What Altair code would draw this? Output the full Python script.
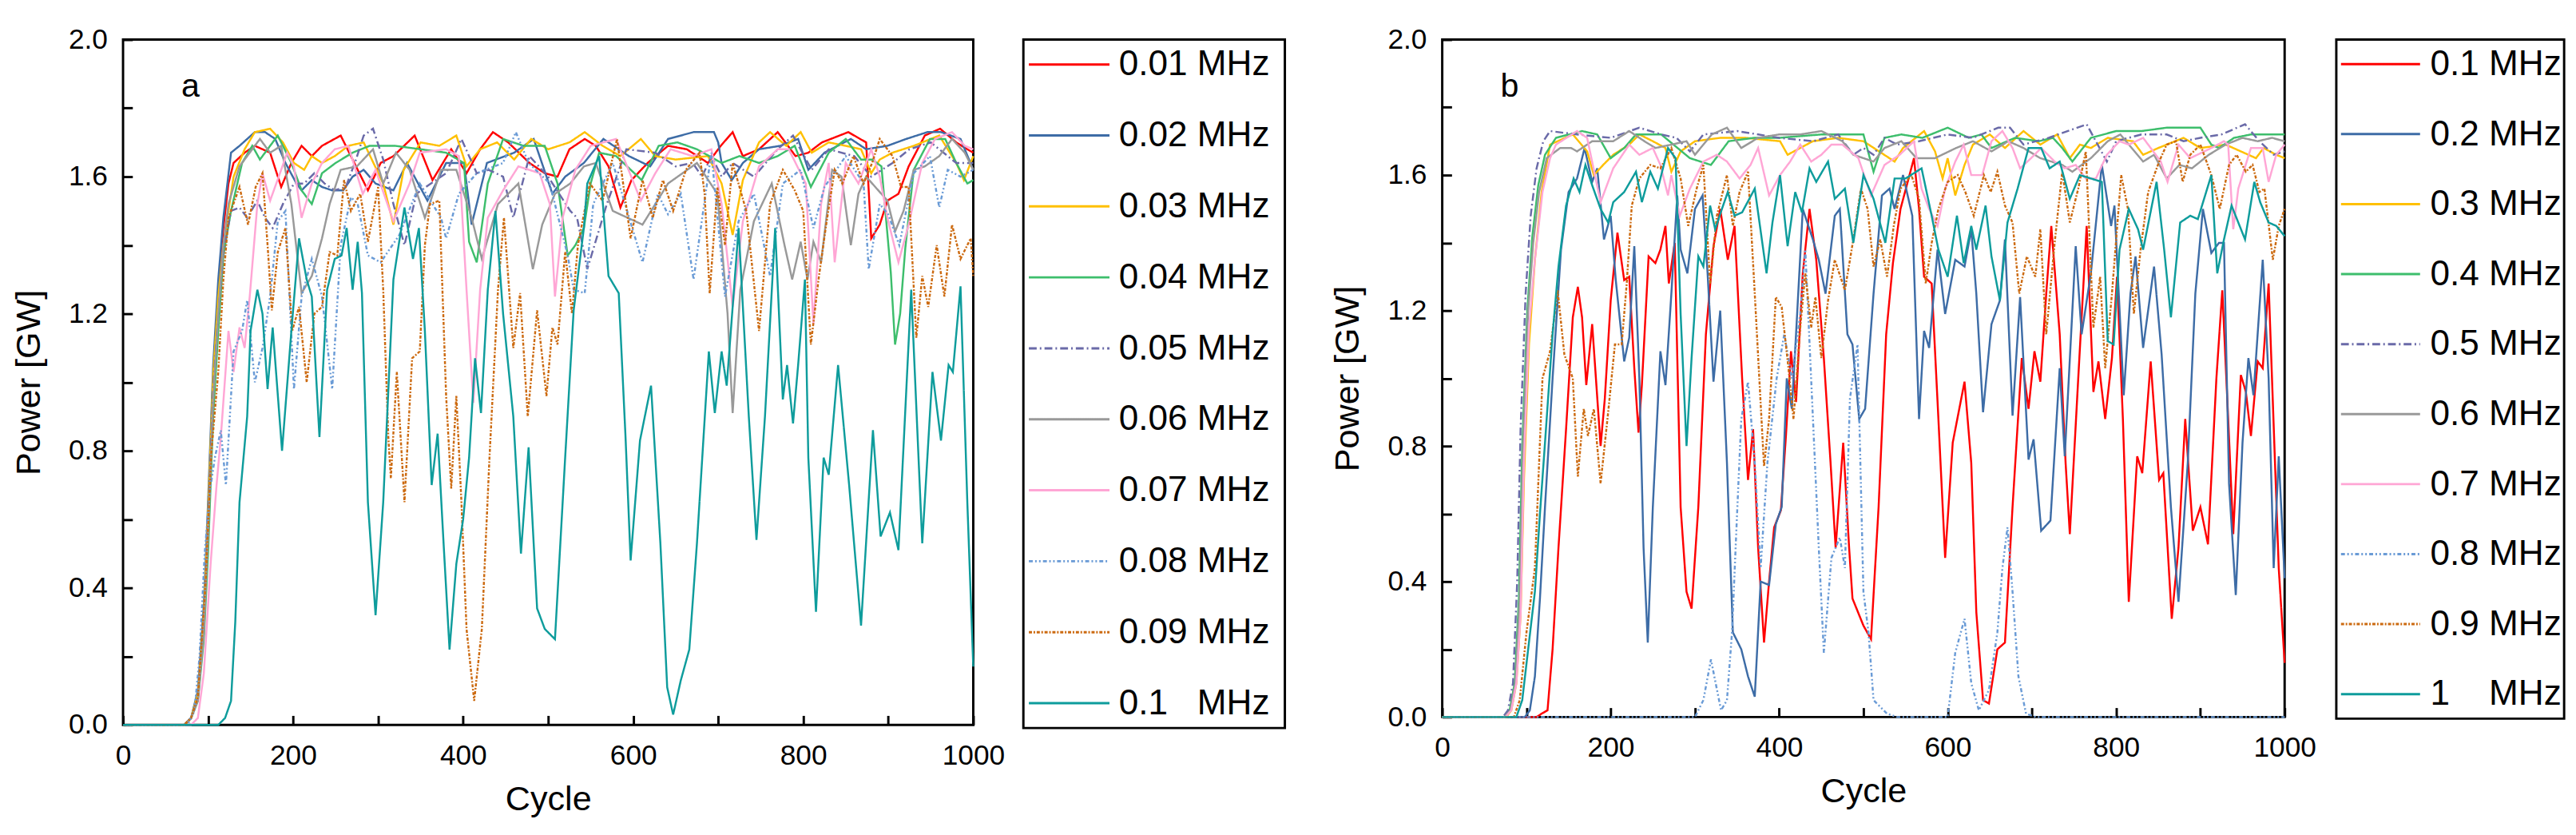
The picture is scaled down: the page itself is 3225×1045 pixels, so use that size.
import altair as alt
import pandas as pd

FONT = "Liberation Sans"

LABELS_A = ["0.01 MHz", "0.02 MHz", "0.03 MHz", "0.04 MHz", "0.05 MHz",
            "0.06 MHz", "0.07 MHz", "0.08 MHz", "0.09 MHz", "0.1\u00a0\u00a0\u00a0MHz"]
LABELS_B = ["0.1 MHz", "0.2 MHz", "0.3 MHz", "0.4 MHz", "0.5 MHz",
            "0.6 MHz", "0.7 MHz", "0.8 MHz", "0.9 MHz", "1\u00a0\u00a0\u00a0\u00a0MHz"]
COLORS = ["#ff0000", "#3d6ca6", "#ffc000", "#3dbe6c", "#6a6aa8",
          "#999999", "#ffa6d5", "#6a9bd6", "#cc6a10", "#0e9c9c"]
DASHES = [[1, 0], [1, 0], [1, 0], [1, 0], [10, 4, 2, 4],
          [1, 0], [1, 0], [5, 3, 2, 3, 2, 3], [4, 2, 2, 2], [1, 0]]

X_TICKS = [0, 100, 200, 300, 400, 500, 600, 700, 800, 900, 1000]
Y_TICKS = [0.0, 0.2, 0.4, 0.6, 0.8, 1.0, 1.2, 1.4, 1.6, 1.8, 2.0]

# ---- panel a : (cycle, power GW) ----
A_001 = [(0, 0), (72, 0), (80, 0.02), (88, 0.08), (95, 0.3), (100, 0.6), (106, 1.0), (112, 1.27), (118, 1.45), (124, 1.58),
         (130, 1.64), (143, 1.67), (155, 1.69), (173, 1.67), (186, 1.57), (198, 1.64), (210, 1.69), (222, 1.66), (234, 1.69),
         (256, 1.72), (270, 1.65), (280, 1.60), (288, 1.56), (303, 1.64), (318, 1.66), (343, 1.72), (364, 1.59), (386, 1.68),
         (404, 1.61), (420, 1.68), (435, 1.73), (453, 1.70), (478, 1.64), (496, 1.61), (511, 1.60), (525, 1.68), (543, 1.71),
         (556, 1.69), (571, 1.63), (585, 1.51), (598, 1.59), (617, 1.64), (641, 1.69), (663, 1.68), (688, 1.64), (703, 1.69),
         (717, 1.73), (729, 1.66), (748, 1.68), (770, 1.73), (791, 1.66), (806, 1.67), (822, 1.70), (853, 1.73), (874, 1.70),
         (880, 1.42), (890, 1.46), (899, 1.53), (912, 1.55), (924, 1.63), (943, 1.72), (961, 1.74), (980, 1.70), (993, 1.68),
         (1000, 1.67)]
A_002 = [(0, 0), (72, 0), (80, 0.02), (88, 0.1), (95, 0.35), (100, 0.65), (106, 1.05), (112, 1.3), (118, 1.48), (127, 1.67),
         (137, 1.69), (155, 1.73), (167, 1.73), (179, 1.71), (191, 1.64), (204, 1.58), (210, 1.56), (222, 1.59), (234, 1.57),
         (246, 1.56), (259, 1.56), (270, 1.60), (283, 1.62), (297, 1.58), (318, 1.56), (334, 1.64), (358, 1.53), (380, 1.64),
         (401, 1.64), (410, 1.46), (428, 1.64), (460, 1.67), (483, 1.71), (505, 1.55), (520, 1.60), (542, 1.64), (565, 1.71),
         (595, 1.66), (620, 1.63), (641, 1.71), (671, 1.73), (695, 1.73), (700, 1.70), (704, 1.64), (716, 1.59), (729, 1.64),
         (748, 1.68), (773, 1.69), (794, 1.71), (806, 1.62), (825, 1.67), (856, 1.71), (874, 1.68), (899, 1.69), (921, 1.71),
         (946, 1.73), (962, 1.73), (985, 1.71), (1000, 1.62)]
A_003 = [(0, 0), (72, 0), (80, 0.02), (88, 0.09), (95, 0.32), (100, 0.62), (106, 1.02), (112, 1.25), (118, 1.4), (124, 1.50),
         (130, 1.60), (143, 1.68), (155, 1.73), (173, 1.74), (188, 1.70), (201, 1.64), (213, 1.62), (222, 1.66), (234, 1.64),
         (249, 1.66), (265, 1.69), (283, 1.70), (306, 1.58), (318, 1.46), (330, 1.62), (350, 1.70), (372, 1.69), (392, 1.72),
         (404, 1.63), (420, 1.68), (440, 1.70), (460, 1.65), (480, 1.71), (500, 1.68), (525, 1.70), (543, 1.73), (564, 1.69),
         (585, 1.66), (609, 1.71), (626, 1.66), (650, 1.65), (688, 1.66), (704, 1.58), (717, 1.43), (729, 1.59), (748, 1.70),
         (761, 1.73), (780, 1.69), (797, 1.73), (810, 1.67), (830, 1.70), (850, 1.69), (868, 1.68), (880, 1.61), (890, 1.65),
         (905, 1.67), (930, 1.69), (960, 1.72), (980, 1.64), (989, 1.59), (1000, 1.66)]
A_004 = [(0, 0), (72, 0), (80, 0.02), (88, 0.07), (95, 0.25), (100, 0.5), (106, 0.9), (112, 1.15), (118, 1.37), (127, 1.50),
         (140, 1.64), (152, 1.69), (161, 1.65), (173, 1.69), (182, 1.72), (198, 1.64), (210, 1.56), (222, 1.52), (234, 1.61),
         (250, 1.64), (270, 1.67), (290, 1.69), (320, 1.69), (350, 1.68), (380, 1.67), (401, 1.64), (407, 1.41), (416, 1.35),
         (429, 1.58), (447, 1.71), (471, 1.69), (496, 1.69), (511, 1.58), (523, 1.37), (532, 1.40), (542, 1.45), (550, 1.58),
         (560, 1.67), (580, 1.66), (610, 1.59), (630, 1.69), (652, 1.70), (675, 1.68), (704, 1.64), (725, 1.66), (748, 1.64),
         (770, 1.66), (790, 1.69), (809, 1.57), (830, 1.67), (850, 1.71), (868, 1.65), (881, 1.65), (892, 1.63), (903, 1.32),
         (908, 1.11), (914, 1.20), (920, 1.39), (930, 1.62), (949, 1.71), (967, 1.71), (980, 1.64), (993, 1.58), (1000, 1.59)]
A_005 = [(0, 0), (72, 0), (80, 0.02), (88, 0.08), (95, 0.3), (100, 0.6), (106, 0.98), (112, 1.2), (118, 1.38), (127, 1.50),
         (137, 1.51), (146, 1.48), (158, 1.53), (167, 1.48), (176, 1.45), (188, 1.52), (201, 1.58), (213, 1.58), (225, 1.61),
         (237, 1.58), (249, 1.56), (262, 1.57), (274, 1.65), (283, 1.72), (294, 1.74), (306, 1.65), (318, 1.52), (331, 1.40),
         (345, 1.55), (362, 1.58), (380, 1.61), (398, 1.71), (416, 1.61), (430, 1.62), (447, 1.60), (459, 1.48), (478, 1.66),
         (500, 1.60), (526, 1.50), (534, 1.48), (546, 1.33), (569, 1.52), (592, 1.68), (626, 1.67), (650, 1.63), (670, 1.64),
         (681, 1.60), (692, 1.66), (704, 1.60), (717, 1.64), (742, 1.60), (770, 1.68), (788, 1.72), (810, 1.62), (830, 1.68),
         (860, 1.66), (880, 1.60), (905, 1.64), (925, 1.68), (950, 1.70), (980, 1.64), (1000, 1.64)]
A_006 = [(0, 0), (72, 0), (80, 0.02), (88, 0.07), (95, 0.27), (100, 0.55), (106, 0.95), (112, 1.2), (118, 1.4), (124, 1.52),
         (137, 1.63), (149, 1.67), (161, 1.71), (173, 1.67), (186, 1.69), (198, 1.52), (210, 1.26), (222, 1.31), (234, 1.42),
         (243, 1.52), (256, 1.62), (275, 1.63), (294, 1.68), (306, 1.58), (321, 1.67), (337, 1.62), (355, 1.48), (374, 1.62),
         (392, 1.62), (410, 1.48), (422, 1.36), (441, 1.52), (465, 1.58), (482, 1.33), (493, 1.46), (508, 1.55), (526, 1.58),
         (542, 1.63), (556, 1.64), (576, 1.50), (611, 1.46), (641, 1.58), (675, 1.64), (699, 1.55), (711, 1.20), (717, 0.91),
         (726, 1.27), (742, 1.47), (763, 1.58), (778, 1.40), (787, 1.30), (797, 1.41), (805, 1.30), (812, 1.41), (821, 1.35),
         (834, 1.62), (845, 1.60), (856, 1.40), (865, 1.55), (874, 1.60), (899, 1.53), (908, 1.44), (918, 1.50), (930, 1.62),
         (943, 1.63), (960, 1.66), (975, 1.71), (990, 1.67), (1000, 1.62)]
A_007 = [(0, 0), (80, 0), (88, 0.02), (95, 0.15), (103, 0.47), (110, 0.7), (115, 0.84), (124, 1.15), (130, 1.03), (137, 1.16),
         (143, 1.10), (149, 1.25), (158, 1.52), (164, 1.61), (173, 1.53), (186, 1.62), (193, 1.67), (201, 1.63), (210, 1.48),
         (222, 1.58), (234, 1.64), (249, 1.68), (265, 1.69), (282, 1.55), (297, 1.62), (318, 1.47), (337, 1.58), (349, 1.67),
         (380, 1.68), (395, 1.66), (404, 1.27), (412, 0.94), (420, 1.27), (429, 1.48), (447, 1.56), (465, 1.63), (490, 1.61),
         (502, 1.52), (508, 1.25), (517, 1.48), (532, 1.62), (550, 1.69), (580, 1.71), (609, 1.53), (626, 1.61), (644, 1.68),
         (670, 1.66), (692, 1.68), (704, 1.52), (717, 1.22), (729, 1.47), (748, 1.63), (770, 1.68), (783, 1.68), (803, 1.58),
         (812, 1.17), (821, 1.52), (830, 1.64), (837, 1.35), (850, 1.64), (865, 1.58), (880, 1.68), (890, 1.60), (899, 1.48),
         (912, 1.35), (924, 1.46), (940, 1.64), (955, 1.71), (975, 1.73), (990, 1.69), (1000, 1.68)]
A_008 = [(0, 0), (76, 0), (84, 0.04), (90, 0.2), (96, 0.5), (102, 0.68), (108, 0.78), (115, 0.86), (121, 0.70), (130, 1.09),
         (140, 1.15), (146, 1.24), (155, 1.00), (164, 1.10), (173, 1.25), (182, 1.47), (191, 1.50), (201, 0.98), (210, 1.25),
         (222, 1.36), (234, 1.25), (246, 0.98), (256, 1.40), (268, 1.54), (276, 1.52), (288, 1.37), (303, 1.35), (325, 1.43),
         (349, 1.58), (374, 1.48), (380, 1.42), (395, 1.55), (416, 1.61), (447, 1.64), (462, 1.73), (477, 1.64), (502, 1.58),
         (523, 1.37), (530, 1.27), (543, 1.26), (553, 1.52), (576, 1.64), (611, 1.35), (629, 1.55), (641, 1.49), (656, 1.55),
         (671, 1.30), (692, 1.67), (708, 1.25), (724, 1.47), (742, 1.55), (761, 1.31), (776, 1.58), (797, 1.62), (812, 1.45),
         (825, 1.57), (850, 1.66), (871, 1.58), (877, 1.33), (890, 1.52), (900, 1.49), (913, 1.40), (930, 1.61), (949, 1.66),
         (960, 1.51), (970, 1.62), (985, 1.60), (1000, 1.62)]
A_009 = [(0, 0), (72, 0), (80, 0.02), (88, 0.08), (97, 0.41), (104, 0.8), (112, 1.03), (118, 1.3), (124, 1.48), (137, 1.57),
         (147, 1.46), (156, 1.57), (164, 1.61), (170, 1.40), (175, 1.21), (182, 1.38), (191, 1.45), (199, 1.15), (207, 1.22),
         (216, 1.00), (225, 1.20), (234, 1.22), (243, 1.38), (252, 1.37), (260, 1.59), (268, 1.50), (279, 1.55), (288, 1.41),
         (300, 1.57), (306, 1.27), (312, 0.84), (315, 0.72), (322, 1.03), (331, 0.65), (340, 1.07), (349, 1.09), (355, 1.40),
         (361, 1.52), (372, 1.53), (380, 0.96), (386, 0.69), (392, 0.96), (398, 0.65), (404, 0.28), (413, 0.07), (422, 0.28),
         (431, 0.78), (441, 1.27), (448, 1.48), (459, 1.10), (467, 1.26), (476, 0.90), (487, 1.21), (498, 0.96), (505, 1.16),
         (511, 1.11), (520, 1.38), (528, 1.20), (535, 1.40), (549, 1.58), (564, 1.53), (581, 1.71), (597, 1.42), (611, 1.59),
         (623, 1.48), (635, 1.59), (647, 1.50), (662, 1.62), (678, 1.67), (684, 1.55), (690, 1.26), (699, 1.57), (708, 1.40),
         (717, 1.64), (733, 1.50), (748, 1.15), (761, 1.52), (776, 1.62), (790, 1.56), (800, 1.50), (809, 1.11), (818, 1.30),
         (827, 1.46), (837, 1.62), (846, 1.58), (859, 1.66), (871, 1.58), (881, 1.64), (890, 1.71), (905, 1.66), (915, 1.57),
         (924, 1.57), (933, 1.13), (940, 1.31), (947, 1.22), (957, 1.40), (966, 1.25), (975, 1.46), (985, 1.36), (997, 1.42),
         (1000, 1.31)]
A_010 = [(0, 0), (112, 0), (120, 0.02), (127, 0.07), (132, 0.3), (137, 0.65), (146, 0.9), (150, 1.15), (158, 1.27), (164, 1.20),
         (170, 0.98), (176, 1.16), (187, 0.80), (198, 1.15), (207, 1.42), (216, 1.30), (222, 1.25), (231, 0.84), (240, 1.27),
         (249, 1.36), (257, 1.37), (263, 1.45), (270, 1.27), (276, 1.41), (281, 1.26), (288, 0.65), (297, 0.32), (306, 0.65),
         (318, 1.30), (331, 1.51), (341, 1.36), (348, 1.45), (355, 1.15), (363, 0.70), (370, 0.85), (377, 0.53), (384, 0.22),
         (392, 0.47), (400, 0.60), (407, 0.78), (414, 1.07), (421, 0.91), (429, 1.27), (438, 1.50), (447, 1.20), (459, 0.90),
         (468, 0.50), (477, 0.81), (487, 0.34), (496, 0.28), (508, 0.25), (520, 0.78), (530, 1.21), (542, 1.45), (546, 1.58),
         (560, 1.66), (571, 1.31), (583, 1.26), (591, 0.84), (597, 0.48), (608, 0.83), (621, 0.99), (632, 0.53), (640, 0.11),
         (647, 0.03), (656, 0.13), (666, 0.22), (675, 0.53), (689, 1.09), (696, 0.91), (704, 1.09), (710, 0.99), (724, 1.45),
         (736, 0.90), (745, 0.54), (755, 0.90), (767, 1.45), (776, 0.95), (781, 1.05), (788, 0.88), (794, 1.05), (802, 1.30),
         (806, 0.78), (815, 0.33), (824, 0.78), (830, 0.73), (841, 1.05), (854, 0.70), (868, 0.29), (882, 0.86), (891, 0.55),
         (902, 0.62), (912, 0.51), (927, 1.27), (940, 0.53), (952, 1.03), (962, 0.83), (971, 1.05), (976, 1.03), (985, 1.28),
         (993, 0.65), (1000, 0.17)]

# ---- panel b ----
B_01 = [(0, 0), (112, 0), (118, 0.01), (125, 0.02), (131, 0.2), (138, 0.50), (147, 0.85), (155, 1.18), (161, 1.27), (166, 1.18),
        (171, 0.98), (178, 1.16), (183, 0.98), (188, 0.80), (193, 0.94), (200, 1.23), (208, 1.43), (216, 1.29), (222, 1.30),
        (228, 1.03), (233, 0.84), (237, 0.98), (245, 1.36), (253, 1.34), (259, 1.38), (265, 1.45), (269, 1.28), (276, 1.40),
        (283, 0.62), (290, 0.37), (296, 0.32), (304, 0.62), (313, 1.13), (322, 1.39), (330, 1.50), (339, 1.35), (347, 1.45),
        (356, 1.00), (363, 0.70), (369, 0.85), (375, 0.50), (382, 0.22), (388, 0.40), (394, 0.56), (402, 0.61), (408, 0.83),
        (414, 1.08), (420, 0.93), (428, 1.31), (436, 1.50), (444, 1.35), (453, 1.06), (461, 0.75), (467, 0.50), (476, 0.81),
        (483, 0.50), (487, 0.35), (500, 0.27), (509, 0.23), (518, 0.62), (527, 1.13), (535, 1.34), (544, 1.50), (560, 1.65),
        (566, 1.50), (572, 1.30), (581, 1.28), (589, 0.88), (597, 0.47), (606, 0.81), (620, 0.99), (628, 0.75), (634, 0.31),
        (642, 0.05), (649, 0.04), (659, 0.20), (668, 0.22), (677, 0.62), (688, 1.06), (696, 0.91), (703, 1.08), (710, 0.99),
        (717, 1.25), (723, 1.45), (733, 1.13), (740, 0.75), (745, 0.54), (755, 1.00), (765, 1.45), (773, 0.96), (779, 1.05),
        (787, 0.88), (795, 1.06), (801, 1.30), (808, 0.88), (815, 0.34), (825, 0.77), (831, 0.72), (841, 1.05), (851, 0.70),
        (856, 0.72), (866, 0.29), (874, 0.50), (882, 0.88), (891, 0.55), (900, 0.62), (909, 0.51), (919, 1.00), (926, 1.26),
        (933, 0.88), (939, 0.54), (948, 1.01), (954, 0.96), (960, 0.83), (968, 1.05), (974, 1.03), (981, 1.28), (988, 0.79),
        (993, 0.44), (1000, 0.16)]
B_02 = [(0, 0), (98, 0), (104, 0.02), (110, 0.12), (116, 0.35), (122, 0.62), (131, 1.0), (141, 1.38), (150, 1.55), (160, 1.59),
        (169, 1.68), (178, 1.58), (184, 1.62), (192, 1.41), (200, 1.48), (206, 1.29), (216, 1.05), (222, 1.12), (228, 1.39),
        (234, 1.00), (239, 0.50), (244, 0.22), (250, 0.62), (259, 1.08), (265, 0.98), (272, 1.25), (279, 1.54), (283, 1.38),
        (291, 1.31), (300, 1.50), (309, 1.54), (315, 1.31), (322, 0.99), (330, 1.20), (338, 0.75), (345, 0.25), (355, 0.20),
        (363, 0.12), (371, 0.06), (378, 0.40), (388, 0.39), (396, 0.57), (403, 0.62), (409, 1.00), (415, 0.91), (420, 1.13),
        (428, 1.50), (440, 1.41), (447, 1.35), (455, 1.25), (466, 1.48), (472, 1.50), (481, 1.13), (487, 1.10), (495, 0.88),
        (502, 0.91), (512, 1.25), (522, 1.54), (531, 1.56), (537, 1.50), (547, 1.60), (558, 1.48), (566, 0.88), (572, 1.14),
        (578, 1.09), (588, 1.38), (597, 1.19), (609, 1.35), (620, 1.33), (628, 1.44), (634, 1.25), (642, 0.90), (652, 1.16),
        (662, 1.23), (668, 1.41), (677, 0.89), (686, 1.24), (696, 0.76), (702, 0.82), (711, 0.55), (722, 0.58), (733, 1.03),
        (739, 0.77), (752, 1.39), (759, 1.13), (770, 1.31), (783, 1.63), (794, 1.45), (798, 1.51), (809, 0.95), (817, 1.25),
        (823, 1.36), (832, 1.09), (845, 1.33), (854, 1.07), (865, 0.62), (874, 0.34), (885, 0.75), (894, 1.25), (903, 1.50),
        (913, 1.37), (922, 1.40), (928, 1.40), (934, 0.69), (942, 0.36), (950, 0.81), (957, 1.06), (963, 0.95), (974, 1.35),
        (981, 1.00), (987, 0.44), (993, 0.77), (1000, 0.41)]
B_03 = [(0, 0), (76, 0), (82, 0.02), (88, 0.1), (93, 0.3), (97, 0.7), (103, 1.1), (110, 1.35), (118, 1.55), (128, 1.69),
        (155, 1.72), (172, 1.67), (180, 1.60), (191, 1.63), (203, 1.66), (222, 1.69), (234, 1.72), (250, 1.70), (265, 1.68),
        (272, 1.61), (283, 1.67), (300, 1.70), (330, 1.71), (360, 1.71), (401, 1.70), (410, 1.66), (440, 1.70), (470, 1.71),
        (500, 1.70), (537, 1.64), (547, 1.68), (572, 1.73), (585, 1.67), (594, 1.59), (600, 1.65), (609, 1.54), (620, 1.63),
        (630, 1.69), (650, 1.72), (668, 1.68), (690, 1.73), (710, 1.69), (730, 1.72), (745, 1.65), (757, 1.69), (770, 1.68),
        (790, 1.71), (820, 1.70), (832, 1.66), (850, 1.68), (880, 1.71), (900, 1.68), (930, 1.69), (966, 1.65), (975, 1.68),
        (990, 1.66), (1000, 1.65)]
B_04 = [(0, 0), (74, 0), (80, 0.02), (86, 0.1), (91, 0.35), (95, 0.8), (101, 1.2), (107, 1.42), (114, 1.57), (122, 1.66),
        (135, 1.71), (166, 1.73), (184, 1.72), (200, 1.65), (216, 1.68), (230, 1.72), (260, 1.72), (294, 1.65), (319, 1.63),
        (340, 1.70), (370, 1.71), (400, 1.71), (450, 1.72), (500, 1.72), (512, 1.61), (525, 1.71), (545, 1.72), (570, 1.71),
        (600, 1.74), (625, 1.71), (640, 1.72), (652, 1.68), (680, 1.71), (708, 1.70), (725, 1.71), (736, 1.68), (748, 1.64),
        (770, 1.71), (800, 1.73), (830, 1.73), (860, 1.74), (900, 1.74), (913, 1.69), (922, 1.68), (940, 1.71), (960, 1.72),
        (980, 1.72), (1000, 1.72)]
B_05 = [(0, 0), (72, 0), (78, 0.02), (84, 0.1), (89, 0.4), (93, 0.85), (99, 1.25), (105, 1.48), (112, 1.62), (120, 1.70),
        (128, 1.73), (160, 1.72), (200, 1.71), (234, 1.74), (260, 1.72), (278, 1.71), (294, 1.67), (310, 1.72), (350, 1.73),
        (400, 1.71), (440, 1.70), (470, 1.72), (488, 1.66), (500, 1.68), (512, 1.66), (525, 1.71), (540, 1.69), (566, 1.70),
        (600, 1.72), (630, 1.71), (660, 1.74), (674, 1.74), (690, 1.69), (720, 1.71), (765, 1.75), (789, 1.64), (800, 1.70),
        (830, 1.72), (860, 1.72), (880, 1.70), (900, 1.71), (925, 1.72), (953, 1.75), (970, 1.70), (987, 1.66), (1000, 1.67)]
B_06 = [(0, 0), (74, 0), (81, 0.02), (87, 0.1), (92, 0.35), (96, 0.8), (102, 1.2), (108, 1.4), (115, 1.55), (124, 1.65),
        (140, 1.68), (153, 1.68), (160, 1.67), (178, 1.70), (203, 1.70), (222, 1.73), (240, 1.70), (253, 1.68), (272, 1.69),
        (290, 1.70), (300, 1.66), (320, 1.72), (338, 1.74), (355, 1.68), (375, 1.71), (400, 1.72), (425, 1.72), (450, 1.73),
        (475, 1.70), (488, 1.66), (512, 1.64), (525, 1.68), (545, 1.70), (563, 1.65), (585, 1.65), (610, 1.68), (630, 1.70),
        (652, 1.67), (672, 1.70), (690, 1.68), (710, 1.65), (736, 1.63), (748, 1.61), (770, 1.65), (790, 1.70), (805, 1.72),
        (832, 1.64), (845, 1.66), (860, 1.59), (875, 1.63), (890, 1.62), (910, 1.66), (930, 1.69), (950, 1.71), (968, 1.70),
        (985, 1.71), (1000, 1.70)]
B_07 = [(0, 0), (75, 0), (82, 0.02), (88, 0.1), (93, 0.3), (97, 0.75), (103, 1.15), (110, 1.35), (119, 1.55), (128, 1.65),
        (135, 1.69), (160, 1.73), (172, 1.71), (188, 1.52), (203, 1.62), (222, 1.69), (234, 1.66), (250, 1.68), (259, 1.63),
        (268, 1.54), (272, 1.60), (282, 1.48), (294, 1.56), (310, 1.64), (326, 1.66), (338, 1.64), (353, 1.59), (366, 1.63),
        (375, 1.68), (388, 1.54), (401, 1.60), (413, 1.64), (425, 1.69), (438, 1.64), (450, 1.66), (462, 1.69), (475, 1.69),
        (494, 1.65), (509, 1.54), (525, 1.63), (543, 1.66), (560, 1.70), (569, 1.56), (578, 1.50), (588, 1.45), (597, 1.56),
        (609, 1.64), (619, 1.69), (628, 1.60), (641, 1.60), (652, 1.70), (665, 1.73), (677, 1.68), (686, 1.62), (699, 1.65),
        (711, 1.68), (727, 1.64), (739, 1.62), (752, 1.63), (764, 1.59), (776, 1.59), (789, 1.66), (804, 1.70), (815, 1.69),
        (832, 1.71), (853, 1.64), (861, 1.58), (874, 1.69), (888, 1.65), (913, 1.68), (928, 1.70), (933, 1.69), (939, 1.44),
        (945, 1.56), (960, 1.68), (974, 1.68), (981, 1.58), (990, 1.66), (1000, 1.69)]
B_08 = [(0, 0), (300, 0), (310, 0.05), (319, 0.17), (331, 0.02), (338, 0.05), (344, 0.25), (350, 0.6), (355, 0.88), (363, 0.99),
        (371, 0.75), (378, 0.44), (386, 0.75), (397, 1.00), (406, 1.13), (415, 1.00), (425, 1.19), (431, 1.38), (439, 0.94),
        (447, 0.50), (453, 0.19), (462, 0.47), (472, 0.53), (478, 0.44), (484, 0.94), (493, 1.10), (500, 0.37), (506, 0.25),
        (512, 0.05), (528, 0.01), (540, 0), (600, 0), (609, 0.19), (620, 0.29), (628, 0.10), (637, 0.02), (649, 0.08),
        (659, 0.25), (665, 0.44), (671, 0.56), (677, 0.37), (684, 0.12), (693, 0.01), (705, 0), (1000, 0)]
B_09 = [(0, 0), (85, 0), (92, 0.05), (100, 0.25), (110, 0.44), (119, 1.0), (128, 1.08), (137, 1.26), (145, 1.07), (155, 1.0),
        (161, 0.71), (168, 0.91), (173, 0.83), (180, 0.91), (188, 0.69), (197, 0.90), (205, 1.10), (213, 1.10), (219, 1.28),
        (225, 1.51), (234, 1.59), (247, 1.63), (259, 1.62), (272, 1.68), (283, 1.59), (292, 1.45), (302, 1.56), (310, 1.63),
        (318, 1.28), (326, 1.48), (338, 1.60), (345, 1.45), (353, 1.55), (363, 1.61), (371, 1.25), (382, 0.74), (388, 0.88),
        (396, 1.24), (403, 1.21), (411, 1.03), (417, 0.88), (425, 1.15), (431, 1.31), (438, 1.15), (443, 1.24), (450, 1.06),
        (458, 1.23), (466, 1.35), (478, 1.26), (488, 1.41), (497, 1.56), (505, 1.50), (512, 1.33), (520, 1.41), (528, 1.30),
        (536, 1.45), (544, 1.56), (557, 1.60), (566, 1.53), (574, 1.28), (581, 1.40), (589, 1.50), (600, 1.58), (612, 1.60),
        (621, 1.55), (631, 1.48), (643, 1.60), (651, 1.55), (659, 1.61), (668, 1.51), (677, 1.46), (685, 1.25), (694, 1.36),
        (704, 1.30), (710, 1.44), (717, 1.13), (727, 1.40), (736, 1.61), (745, 1.46), (755, 1.56), (764, 1.67), (773, 1.15),
        (781, 1.30), (787, 1.03), (795, 1.25), (806, 1.60), (814, 1.50), (821, 1.19), (829, 1.38), (838, 1.55), (851, 1.64),
        (860, 1.69), (871, 1.70), (879, 1.58), (888, 1.66), (900, 1.69), (913, 1.60), (923, 1.50), (934, 1.63), (943, 1.66),
        (954, 1.61), (962, 1.63), (970, 1.55), (976, 1.56), (986, 1.35), (993, 1.45), (1000, 1.50)]
B_10 = [(0, 0), (88, 0), (95, 0.05), (102, 0.2), (110, 0.37), (116, 0.6), (122, 0.81), (131, 1.13), (138, 1.33), (147, 1.51),
        (156, 1.59), (163, 1.55), (170, 1.63), (178, 1.57), (188, 1.50), (197, 1.46), (203, 1.52), (216, 1.55), (230, 1.61),
        (237, 1.52), (247, 1.61), (256, 1.56), (268, 1.68), (277, 1.65), (283, 1.19), (290, 0.80), (296, 1.06), (304, 1.36),
        (310, 1.33), (318, 1.51), (324, 1.44), (332, 1.50), (339, 1.55), (347, 1.48), (356, 1.49), (371, 1.56), (385, 1.31),
        (392, 1.46), (401, 1.60), (410, 1.39), (419, 1.55), (427, 1.49), (436, 1.62), (444, 1.58), (458, 1.64), (466, 1.53),
        (478, 1.56), (488, 1.40), (500, 1.60), (512, 1.53), (526, 1.40), (537, 1.59), (550, 1.59), (569, 1.62), (581, 1.48),
        (589, 1.38), (600, 1.30), (611, 1.48), (619, 1.34), (628, 1.45), (634, 1.38), (645, 1.51), (652, 1.36), (662, 1.23),
        (671, 1.46), (683, 1.56), (696, 1.68), (711, 1.68), (721, 1.62), (733, 1.64), (745, 1.53), (757, 1.60), (770, 1.59),
        (783, 1.58), (790, 1.11), (797, 1.10), (804, 1.38), (815, 1.50), (826, 1.44), (832, 1.38), (848, 1.58), (857, 1.38),
        (865, 1.18), (876, 1.46), (888, 1.48), (897, 1.47), (913, 1.60), (920, 1.31), (928, 1.41), (937, 1.51), (945, 1.46),
        (953, 1.41), (964, 1.58), (971, 1.52), (981, 1.46), (990, 1.45), (1000, 1.42)]

SERIES_A = [A_001, A_002, A_003, A_004, A_005, A_006, A_007, A_008, A_009, A_010]
SERIES_B = [B_01, B_02, B_03, B_04, B_05, B_06, B_07, B_08, B_09, B_10]


def long_table(series, labels):
    rows = []
    for name, pts in zip(labels, series):
        for c, p in pts:
            rows.append({"series": name, "cycle": c, "power": p})
    return pd.DataFrame(rows)


def panel(series, labels, tag, w, h):
    df = long_table(series, labels)
    xs = alt.Scale(domain=[0, 1000], nice=False, zero=False)
    ys = alt.Scale(domain=[0, 2], nice=False)
    # ticks every 100 / 0.2, labels only on every other one; a negative
    # tick size (given as an expression) turns the ticks into the plot
    xaxis = alt.Axis(orient="bottom", values=X_TICKS, format="d",
                     labelExpr="round(datum.value) % 200 === 0 ? datum.label : ''",
                     ticks=True, tickSize=alt.ExprRef("-12"), tickWidth=3, tickColor="black",
                     domain=False, grid=False, labelFontSize=36, labelPadding=34, labelFlush=False,
                     title="Cycle", titleFontSize=44, titlePadding=16, titleFontWeight="normal")
    yaxis = alt.Axis(orient="left", values=Y_TICKS, format=".1f",
                     labelExpr="round(datum.value * 10) % 4 === 0 ? datum.label : ''",
                     ticks=True, tickSize=alt.ExprRef("-12"), tickWidth=3, tickColor="black",
                     domain=False, grid=False, labelFontSize=36, labelPadding=32,
                     title="Power [GW]", titleFontSize=44, titlePadding=28, titleFontWeight="normal")

    lines = alt.Chart(df).mark_line(strokeWidth=2.5).encode(
        x=alt.X("cycle:Q", scale=xs, axis=xaxis),
        y=alt.Y("power:Q", scale=ys, axis=yaxis),
        color=alt.Color("series:N", scale=alt.Scale(domain=labels, range=COLORS), legend=None),
        strokeDash=alt.StrokeDash("series:N", scale=alt.Scale(domain=labels, range=DASHES), legend=None),
    )

    letter = alt.Chart(pd.DataFrame({"tag": [tag]})).mark_text(
        font=FONT, fontSize=42, align="center", baseline="middle", color="black"
    ).encode(text="tag:N", x=alt.value(86), y=alt.value(60))

    return alt.layer(lines, letter).properties(width=w, height=h)


def legend_box(labels, w, h, x0, x1, xt):
    ldf = pd.DataFrame({"series": labels})
    y = alt.Y("series:N", sort=labels, axis=None, scale=alt.Scale(type="point", padding=0.35))
    rules = alt.Chart(ldf).mark_rule(strokeWidth=3).encode(
        x=alt.value(x0), x2=alt.value(x1), y=y,
        color=alt.Color("series:N", scale=alt.Scale(domain=labels, range=COLORS), legend=None),
        strokeDash=alt.StrokeDash("series:N", scale=alt.Scale(domain=labels, range=DASHES), legend=None),
    )
    texts = alt.Chart(ldf).mark_text(
        font=FONT, fontSize=45, align="left", baseline="middle", color="black"
    ).encode(x=alt.value(xt), y=y, text="series:N")
    return alt.layer(rules, texts).properties(width=w, height=h)


panel_a = panel(SERIES_A, LABELS_A, "a", 1086, 875)
legend_a = legend_box(LABELS_A, 334, 879, 7, 110, 122)
panel_b = panel(SERIES_B, LABELS_B, "b", 1076, 865)
legend_b = legend_box(LABELS_B, 291, 867, 6, 107, 120)

chart = alt.hconcat(
    alt.hconcat(panel_a, legend_a, spacing=20),
    alt.hconcat(panel_b, legend_b, spacing=22),
    spacing=55,
).properties(
    padding={"left": 5, "top": 12, "right": 5, "bottom": 2}
).configure_view(
    stroke="black", strokeWidth=3
).configure_axis(
    labelFont=FONT, titleFont=FONT, labelColor="black", titleColor="black"
)

chart.save("out.html", embed_options={"renderer": "svg", "actions": False})
